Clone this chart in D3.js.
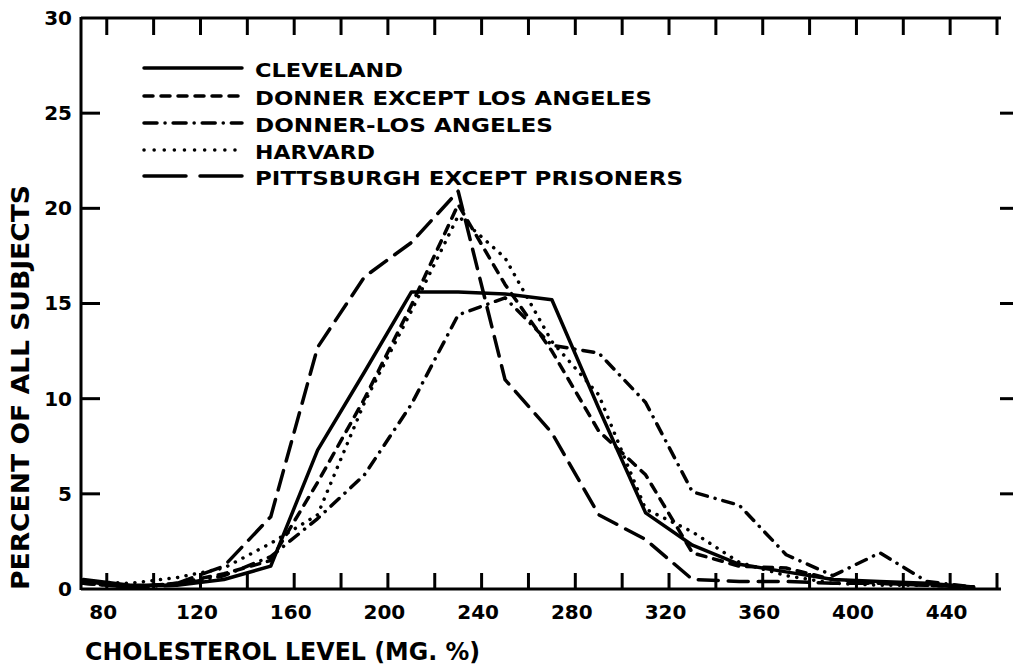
<!DOCTYPE html>
<html>
<head>
<meta charset="utf-8">
<script src="https://cdn.jsdelivr.net/npm/d3@7"></script>
<style>
  body { margin: 0; background: #fff; }
  text { font-family: "DejaVu Sans", sans-serif; font-weight: bold; fill: #000; }
</style>
</head>
<body>
<div id="chart"></div>
<script>
// cholesterol class midpoints (mg. %)
const chol = [70, 90, 110, 130, 150, 170, 190, 210, 230, 250, 270, 290, 310, 330, 350, 370, 390, 410, 430, 450];

// percent of all subjects, one array per study group
const cleveland   = [0.5, 0.2, 0.2, 0.5, 1.2, 7.3, 11.4, 15.6, 15.6, 15.5, 15.2, 9.5, 4.0, 2.3, 1.3, 0.9, 0.5, 0.4, 0.3, 0.1];
const donnerExLA  = [0.3, 0.1, 0.3, 0.8, 1.5, 5.6, 10.0, 14.9, 20.2, 16.0, 12.5, 8.3, 6.0, 1.9, 1.2, 1.1, 0.5, 0.3, 0.2, 0.1];
const donnerLA    = [0.3, 0.1, 0.2, 0.7, 1.7, 3.7, 6.0, 9.7, 14.4, 15.3, 12.8, 12.4, 9.8, 5.1, 4.4, 1.8, 0.7, 1.9, 0.4, 0.1];
const harvard     = [0.4, 0.3, 0.6, 1.1, 2.4, 3.9, 9.8, 14.6, 19.6, 17.4, 13.0, 10.2, 4.2, 3.0, 1.4, 0.7, 0.3, 0.2, 0.2, 0.1];
const pittsburgh  = [0.4, 0.1, 0.3, 1.2, 3.8, 12.7, 16.4, 18.2, 20.9, 11.0, 8.2, 3.9, 2.6, 0.5, 0.4, 0.4, 0.3, 0.3, 0.2, 0.1];

const seriesNames = ["CLEVELAND", "DONNER EXCEPT LOS ANGELES", "DONNER-LOS ANGELES", "HARVARD", "PITTSBURGH EXCEPT PRISONERS"];

// tick values
const xTickVals = [80, 100, 120, 140, 160, 180, 200, 220, 240, 260, 280, 300, 320, 340, 360, 380, 400, 420, 440, 460];
const xLabelVals = [80, 120, 160, 200, 240, 280, 320, 360, 400, 440];
const yTickVals = [0, 5, 10, 15, 20, 25, 30];

const width = 1013, height = 666;
const plotL = 81, plotR = 997, plotT = 18, plotB = 589;

const svg = d3.select("#chart").append("svg")
    .attr("width", width)
    .attr("height", height);

const x = d3.scaleLinear().domain([69, 460]).range([plotL, plotR]);
const y = d3.scaleLinear().domain([0, 30]).range([plotB, plotT]);

// line styles (round caps, so gaps look smaller than the array says)
const styles = [
  {dash: null,          legendDash: null},
  {dash: "9,8",         legendDash: "9,8"},
  {dash: "11,8,0.1,8",  legendDash: "13,8,0.1,8"},
  {dash: "0.1,8.5",     legendDash: "0.1,10"},
  {dash: "20,10",       legendDash: "42,14"}
];
const allSeries = [cleveland, donnerExLA, donnerLA, harvard, pittsburgh];

// frame
const frame = svg.append("g").attr("stroke", "#000").attr("stroke-width", 3).attr("fill", "none");
frame.append("line").attr("x1", plotL).attr("x2", plotL).attr("y1", plotT - 1).attr("y2", plotB + 1);
frame.append("line").attr("x1", plotL).attr("x2", 1001).attr("y1", plotT).attr("y2", plotT);
frame.append("line").attr("x1", plotL).attr("x2", 1001).attr("y1", plotB).attr("y2", plotB);

// inward tick marks
const ticks = svg.append("g").attr("stroke", "#000").attr("stroke-width", 3);
ticks.selectAll(".tb").data(xTickVals).join("line")
    .attr("x1", d => x(d)).attr("x2", d => x(d))
    .attr("y1", plotB).attr("y2", plotB - 16);
ticks.selectAll(".tt").data(xTickVals).join("line")
    .attr("x1", d => x(d)).attr("x2", d => x(d))
    .attr("y1", plotT).attr("y2", plotT + 17);
ticks.selectAll(".tl").data(yTickVals.slice(1, -1)).join("line")
    .attr("x1", plotL).attr("x2", plotL + 19)
    .attr("y1", d => y(d)).attr("y2", d => y(d));
ticks.selectAll(".tr").data(yTickVals.slice(1, -1)).join("line")
    .attr("x1", 1000).attr("x2", 1013)
    .attr("y1", d => y(d)).attr("y2", d => y(d));

// axis labels
const xAxis = svg.append("g")
    .attr("transform", `translate(0, ${plotB})`)
    .call(d3.axisBottom(x).tickValues(xLabelVals).tickSize(0).tickPadding(16));
xAxis.selectAll("text").attr("font-size", 20).attr("dx", -4);

const yAxis = svg.append("g")
    .attr("transform", `translate(${plotL}, 0)`)
    .call(d3.axisLeft(y).tickValues(yTickVals).tickSize(0).tickPadding(9));
yAxis.selectAll("text").attr("font-size", 20);

svg.selectAll(".domain").remove();

// curves
const line = d3.line()
    .x(d => x(d[0]))
    .y(d => y(d[1]));

allSeries.forEach((vals, i) => {
  svg.append("path")
      .datum(chol.map((c, j) => [c, vals[j]]))
      .attr("d", line)
      .attr("fill", "none")
      .attr("stroke", "#000")
      .attr("stroke-width", 3.5)
      .attr("stroke-linecap", "round")
      .attr("stroke-linejoin", "round")
      .attr("stroke-dasharray", styles[i].dash);
});

// legend
const legendRows = [68, 96, 123, 150, 176];
const legendWidths = [148, 397, 298, 120, 428];
const legend = svg.append("g");
seriesNames.forEach((name, i) => {
  legend.append("line")
      .attr("x1", 144).attr("x2", 242)
      .attr("y1", legendRows[i]).attr("y2", legendRows[i])
      .attr("stroke", "#000")
      .attr("stroke-width", 3.5)
      .attr("stroke-linecap", "round")
      .attr("stroke-dasharray", styles[i].legendDash);
  legend.append("text")
      .attr("x", 255)
      .attr("y", legendRows[i] + 9)
      .attr("font-size", 20)
      .attr("textLength", legendWidths[i])
      .attr("lengthAdjust", "spacingAndGlyphs")
      .text(name);
});

// axis titles
svg.append("text")
    .attr("x", 85)
    .attr("y", 660)
    .attr("font-size", 24)
    .attr("font-weight", "normal")
    .attr("textLength", 395)
    .attr("lengthAdjust", "spacingAndGlyphs")
    .text("CHOLESTEROL LEVEL (MG. %)");

svg.append("text")
    .attr("transform", `translate(29, 590) rotate(-90)`)
    .attr("font-size", 24)
    .attr("textLength", 405)
    .attr("lengthAdjust", "spacingAndGlyphs")
    .text("PERCENT OF ALL SUBJECTS");
</script>
</body>
</html>
